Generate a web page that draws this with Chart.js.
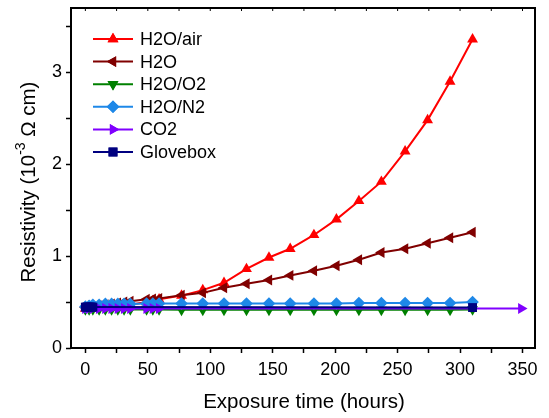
<!DOCTYPE html>
<html>
<head>
<meta charset="utf-8">
<script src="https://cdn.jsdelivr.net/npm/chart.js@4.4.0/dist/chart.umd.min.js"></script>
<style>
  body { margin: 0; background: #fff; }
  canvas { display: block; }
</style>
</head>
<body>
<canvas id="myChart" width="549" height="418"></canvas>
<script>
// exposure times (hours) shared by most series
var hours = [0, 3, 6, 11, 16, 21, 26, 31, 36, 49, 54, 59, 77, 94, 111, 129, 147, 164, 183, 201, 219, 237, 256, 274, 292, 310];

var airData = [0.43, 0.44, 0.44, 0.45, 0.45, 0.46, 0.46, 0.47, 0.47, 0.50, 0.51, 0.53, 0.57, 0.63, 0.71, 0.86, 0.985, 1.08, 1.23, 1.40, 1.60, 1.81, 2.14, 2.48, 2.90, 3.36];
var waterData = [0.44, 0.44, 0.45, 0.46, 0.47, 0.48, 0.49, 0.50, 0.51, 0.53, 0.535, 0.54, 0.575, 0.60, 0.655, 0.70, 0.74, 0.79, 0.84, 0.895, 0.96, 1.04, 1.08, 1.14, 1.20, 1.26];
var o2Data = [0.42, 0.42, 0.42, 0.42, 0.42, 0.42, 0.42, 0.42, 0.42, 0.42, 0.42, 0.42, 0.415, 0.415, 0.415, 0.415, 0.415, 0.415, 0.415, 0.415, 0.415, 0.415, 0.415, 0.415, 0.415, 0.42];
var n2Data = [0.45, 0.46, 0.47, 0.47, 0.48, 0.48, 0.48, 0.48, 0.48, 0.485, 0.485, 0.485, 0.485, 0.485, 0.485, 0.485, 0.485, 0.485, 0.485, 0.485, 0.49, 0.49, 0.49, 0.49, 0.49, 0.50];

var co2Hours = [0, 3, 6, 11, 16, 21, 26, 31, 36, 49, 54, 59, 349];
var co2Data = [0.43, 0.43, 0.43, 0.43, 0.43, 0.43, 0.43, 0.43, 0.43, 0.43, 0.43, 0.43, 0.43];

var gloveHours = [0, 1, 2, 3, 4, 5, 6, 310];
var gloveData = [0.445, 0.445, 0.445, 0.445, 0.445, 0.445, 0.445, 0.44];

var xTicks = [0, 50, 100, 150, 200, 250, 300, 350];
var yTicks = [0, 1, 2, 3];

var FONT = '"Liberation Sans", Arial, sans-serif';

function pts(xs, ys) {
  var out = [];
  for (var i = 0; i < xs.length; i++) {
    out.push({ x: xs[i], y: ys[i] });
  }
  return out;
}

function series(label, xs, ys, color, style, rot, order) {
  return {
    label: label,
    data: pts(xs, ys),
    borderColor: color,
    backgroundColor: color,
    borderWidth: 2,
    pointStyle: style,
    pointRotation: rot,
    pointRadius: 6.3,
    pointBorderWidth: 0,
    order: order,
    showLine: true
  };
}

var datasets = [
  series('H2O/air', hours, airData, '#ff0000', 'triangle', 0, 6),
  series('H2O', hours, waterData, '#800000', 'triangle', -90, 5),
  series('H2O/O2', hours, o2Data, '#008000', 'triangle', 180, 4),
  series('H2O/N2', hours, n2Data, '#1e88e8', 'rectRot', 0, 3),
  series('CO2', co2Hours, co2Data, '#8000ff', 'triangle', 90, 2),
  series('Glovebox', gloveHours, gloveData, '#000080', 'rect', 0, 1)
];

// frame, top ticks, axis titles and the line+marker legend
var framePlugin = {
  id: 'frame',
  afterDraw: function (chart) {
    var c = chart.ctx;
    var a = chart.chartArea;
    var xs = chart.scales.x;
    c.save();
    c.strokeStyle = '#000';
    c.lineWidth = 2;
    c.strokeRect(a.left, a.top, a.right - a.left, a.bottom - a.top);
    c.lineWidth = 1;
    for (var v = 0; v <= 350; v += 25) {
      var px = xs.getPixelForValue(v);
      c.beginPath();
      c.moveTo(px, a.top);
      c.lineTo(px, a.top + 3);
      c.stroke();
    }

    // legend
    c.font = '18px ' + FONT;
    c.textBaseline = 'middle';
    c.textAlign = 'left';
    for (var i = 0; i < datasets.length; i++) {
      var d = datasets[i];
      var y = 39 + i * 22.6;
      c.strokeStyle = d.borderColor;
      c.lineWidth = 2;
      c.beginPath();
      c.moveTo(93, y);
      c.lineTo(133, y);
      c.stroke();
      c.fillStyle = d.backgroundColor;
      Chart.helpers.drawPoint(c, { pointStyle: d.pointStyle, rotation: d.pointRotation, radius: d.pointRadius, borderWidth: 0 }, 113, y);
      c.fill();
      c.fillStyle = '#000';
      c.fillText(d.label, 140, y + 1);
    }

    // x title
    c.font = '20.5px ' + FONT;
    c.textAlign = 'center';
    c.fillText('Exposure time (hours)', 304, 402);

    // y title with superscript
    var big = '20.5px ' + FONT, small = '14px ' + FONT;
    var p1 = 'Resistivity (10', sup = '-3', p2 = ' \u03A9 cm)';
    c.font = big;
    var w1 = c.measureText(p1).width, w3 = c.measureText(p2).width;
    c.font = small;
    var w2 = c.measureText(sup).width;
    var total = w1 + w2 + w3;
    c.translate(29, 182);
    c.rotate(-Math.PI / 2);
    c.textAlign = 'left';
    var sx = -total / 2;
    c.font = big;
    c.fillText(p1, sx, 0);
    c.font = small;
    c.fillText(sup, sx + w1, -8);
    c.font = big;
    c.fillText(p2, sx + w1 + w2, 0);
    c.restore();
  }
};

new Chart(document.getElementById('myChart'), {
  type: 'scatter',
  data: { datasets: datasets },
  plugins: [framePlugin],
  options: {
    responsive: false,
    animation: false,
    layout: { padding: { top: 8, right: 14, left: 0, bottom: 0 } },
    plugins: {
      legend: { display: false },
      tooltip: { enabled: false }
    },
    scales: {
      x: {
        type: 'linear',
        min: -11.5,
        max: 360,
        afterFit: function (s) { s.height = 70; s.paddingRight = 0; s.paddingLeft = 0; },
        grid: { display: true, drawOnChartArea: false, drawTicks: true, tickLength: 5, tickColor: '#000', tickWidth: 1.5 },
        border: { display: false },
        ticks: {
          stepSize: 25,
          includeBounds: false,
          autoSkip: false,
          maxRotation: 0,
          padding: 6,
          color: '#000',
          font: { family: FONT, size: 18 },
          callback: function (v) { return xTicks.indexOf(v) >= 0 ? String(v) : ''; }
        }
      },
      y: {
        type: 'linear',
        min: 0,
        max: 3.7,
        afterFit: function (s) { s.width = 71; s.paddingTop = 0; s.paddingBottom = 0; },
        grid: { display: true, drawOnChartArea: false, drawTicks: true, tickLength: 5, tickColor: '#000', tickWidth: 1.5 },
        border: { display: false },
        ticks: {
          stepSize: 0.5,
          includeBounds: false,
          autoSkip: false,
          padding: 4,
          color: '#000',
          font: { family: FONT, size: 18 },
          callback: function (v) { return yTicks.indexOf(v) >= 0 ? String(v) : ''; }
        }
      }
    }
  }
});
</script>
</body>
</html>
